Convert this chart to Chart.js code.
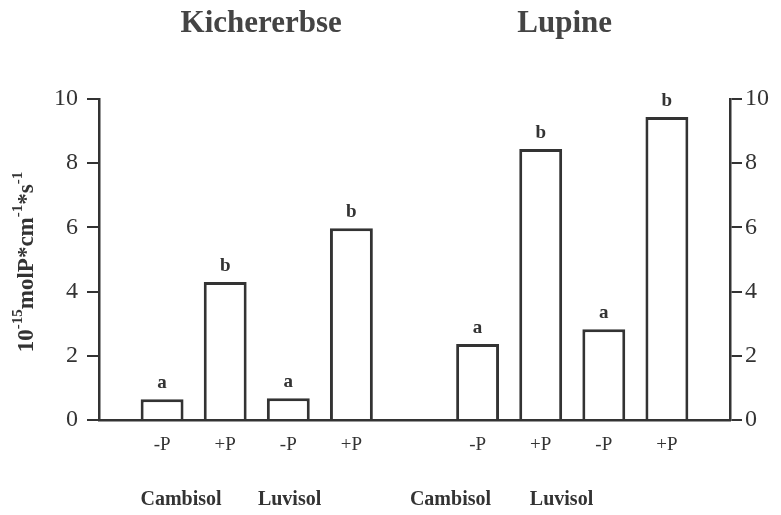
<!DOCTYPE html>
<html lang="de">
<head>
    <meta charset="UTF-8">
    <title>Kichererbse / Lupine</title>
    <script src="https://cdn.jsdelivr.net/npm/chart.js"></script>
    <style>
        body { margin: 0; background: #fff; }
        #wrap { width: 781px; height: 515px; }
    </style>
</head>
<body>
    <div id="wrap"><canvas id="chart" width="781" height="515"></canvas></div>

    <script>
        // data
        const crops = ['Kichererbse', 'Lupine'];
        const soils = ['Cambisol', 'Luvisol'];
        const treatments = ['-P', '+P'];
        const kichererbseValues = [0.65, 4.3, 0.68, 5.97];
        const lupineValues = [2.37, 8.44, 2.83, 9.44];
        const kichererbseLetters = ['a', 'b', 'a', 'b'];
        const lupineLetters = ['a', 'b', 'a', 'b'];
        const yTicks = [0, 2, 4, 6, 8, 10];

        // one empty slot at each end and between the two crops
        const labels = [''];
        const values = [null];
        const letters = [''];
        [[kichererbseValues, kichererbseLetters], [lupineValues, lupineLetters]].forEach(([vals, lets], c) => {
            soils.forEach((s, i) => {
                treatments.forEach((t, j) => {
                    labels.push(t);
                    values.push(vals[i * 2 + j]);
                    letters.push(lets[i * 2 + j]);
                });
            });
            labels.push('');
            values.push(null);
            letters.push('');
        });

        const ink = '#333';
        const serif = "'Liberation Serif', 'DejaVu Serif', serif";

        // category positions of the texts under and above the bars (scan is a bit uneven)
        const soilPos = [1.3, 3.02, 5.57, 7.33];
        const cropPos = [2.57, 7.38];

        const letterPlugin = {
            id: 'letters',
            afterDatasetsDraw(chart) {
                const ctx = chart.ctx;
                const meta = chart.getDatasetMeta(0);
                ctx.save();
                ctx.font = 'bold 19px ' + serif;
                ctx.fillStyle = ink;
                ctx.textAlign = 'center';
                ctx.textBaseline = 'alphabetic';
                meta.data.forEach((bar, i) => {
                    if (values[i] == null) return;
                    ctx.fillText(letters[i], bar.x, bar.y - 11);
                });
                ctx.restore();
            }
        };

        const textPlugin = {
            id: 'texts',
            afterDraw(chart) {
                const ctx = chart.ctx;
                const x = chart.scales.x;
                ctx.save();
                ctx.fillStyle = ink;
                ctx.textAlign = 'center';
                ctx.textBaseline = 'middle';

                ctx.font = 'bold 20px ' + serif;
                [soils[0], soils[1], soils[0], soils[1]].forEach((s, i) => {
                    ctx.fillText(s, x.getPixelForValue(soilPos[i]), 500);
                });

                ctx.fillStyle = '#444';
                ctx.font = 'bold 31px ' + serif;
                crops.forEach((c, i) => {
                    ctx.fillText(c, x.getPixelForValue(cropPos[i]), 24);
                });

                // y axis title with superscripts
                const parts = [
                    ['10', false], ['-15', true], ['molP*cm', false],
                    ['-1', true], ['*s', false], ['-1', true]
                ];
                const big = 'bold 23px ' + serif;
                const small = 'bold 15px ' + serif;
                let total = 0;
                parts.forEach(p => {
                    ctx.font = p[1] ? small : big;
                    total += ctx.measureText(p[0]).width;
                });
                ctx.fillStyle = ink;
                ctx.translate(33, 262);
                ctx.rotate(-Math.PI / 2);
                ctx.textAlign = 'left';
                ctx.textBaseline = 'alphabetic';
                let pos = -total / 2;
                parts.forEach(p => {
                    ctx.font = p[1] ? small : big;
                    ctx.fillText(p[0], pos, p[1] ? -11 : 0);
                    pos += ctx.measureText(p[0]).width;
                });
                ctx.restore();
            }
        };

        const yScale = (position, width, padding) => ({
            position: position,
            min: 0,
            max: 10,
            afterBuildTicks(s) { s.ticks = yTicks.map(v => ({ value: v })); },
            afterFit(s) { s.width = width; },
            ticks: { color: ink, padding: padding, font: { family: serif, size: 24 } },
            grid: { drawOnChartArea: false, drawTicks: true, tickLength: 12, color: ink, lineWidth: 2 },
            border: { display: true, color: ink, width: 2.5 }
        });

        new Chart(document.getElementById('chart'), {
            type: 'bar',
            data: {
                labels: labels,
                datasets: [{
                    data: values,
                    yAxisID: 'y',
                    backgroundColor: '#fff',
                    borderColor: ink,
                    borderWidth: 3,
                    borderSkipped: 'bottom',
                    barPercentage: 0.68,
                    categoryPercentage: 1
                }]
            },
            options: {
                responsive: false,
                animation: false,
                layout: { padding: { top: 99, left: 0, right: 0, bottom: 0 } },
                plugins: {
                    legend: { display: false },
                    tooltip: { enabled: false }
                },
                scales: {
                    x: {
                        type: 'category',
                        offset: false,
                        afterFit(s) { s.height = 95; },
                        ticks: {
                            color: ink, padding: 14, autoSkip: false, maxRotation: 0,
                            font: { family: serif, size: 19 }
                        },
                        grid: { display: false, drawTicks: false },
                        border: { display: true, color: ink, width: 2.5 }
                    },
                    y: yScale('left', 99, 9),
                    y2: yScale('right', 51, 3)
                }
            },
            plugins: [letterPlugin, textPlugin]
        });
    </script>
</body>
</html>
